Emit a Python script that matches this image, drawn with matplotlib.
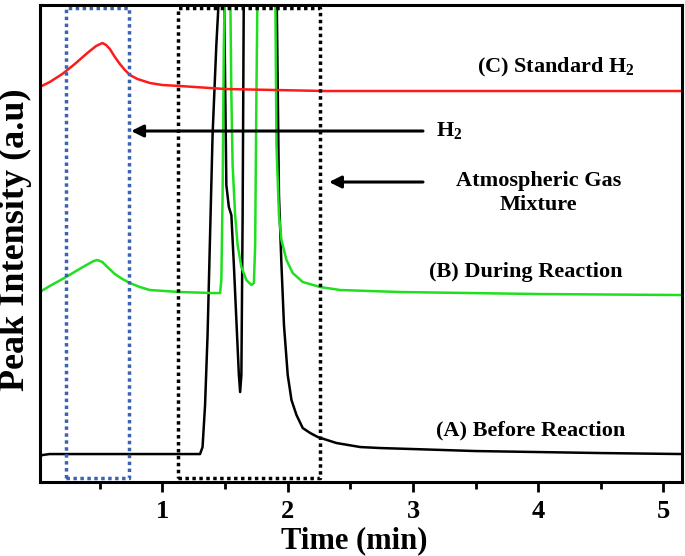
import matplotlib
matplotlib.use('Agg')
import matplotlib.pyplot as plt

plt.rcParams['font.family'] = 'Liberation Serif'
plt.rcParams['font.weight'] = 'bold'
plt.rcParams['mathtext.fontset'] = 'custom'
plt.rcParams['mathtext.rm'] = 'Liberation Serif:bold'
plt.rcParams['mathtext.default'] = 'rm'

# values (y in arbitrary intensity units, >490 = off scale)
t_a = [0.00, 0.04, 0.10, 0.50, 1.00, 1.30, 1.32, 1.34, 1.36, 1.38, 1.40, 1.43,
       1.46, 1.49, 1.51, 1.53, 1.55, 1.57, 1.59, 1.61, 1.62, 1.63, 1.64, 1.65,
       1.90, 1.91, 1.93, 1.95, 1.97, 2.00, 2.03, 2.07, 2.12, 2.18, 2.24, 2.39,
       2.58, 2.74, 3.00, 3.50, 4.00, 4.50, 5.15]
y_a = [36, 40, 41, 41, 41, 41, 48, 90, 160, 260, 360, 450,
       520, 520, 310, 288, 280, 230, 175, 120, 103, 120, 280, 520,
       520, 520, 300, 230, 170, 120, 95, 80, 67, 62, 58, 52,
       48, 47, 46, 44, 43, 42, 41]

t_b = [0.02, 0.10, 0.23, 0.35, 0.45, 0.48, 0.52, 0.56, 0.62, 0.68, 0.74, 0.82,
       0.90, 1.14, 1.40, 1.46, 1.47, 1.48, 1.49, 1.50, 1.54, 1.55, 1.56, 1.58,
       1.60, 1.63, 1.67, 1.71, 1.73, 1.74, 1.75, 1.76, 1.90, 1.91, 1.93, 1.95,
       1.99, 2.04, 2.12, 2.26, 2.42, 2.90, 4.00, 5.15]
y_b = [203, 209, 218, 227, 234, 235, 233, 228, 221, 216, 212, 208,
       205, 203, 202, 202, 215, 300, 450, 520, 520, 400, 330, 280,
       250, 228, 215, 210, 212, 250, 400, 520, 520, 350, 280, 255,
       235, 222, 213, 208, 205, 203, 201, 200]

t_c = [0.02, 0.10, 0.20, 0.30, 0.40, 0.47, 0.52, 0.55, 0.58, 0.62, 0.66, 0.70,
       0.74, 0.80, 0.90, 1.00, 1.14, 1.50, 2.30, 3.00, 4.00, 5.15]
y_c = [408, 413, 421, 431, 442, 449, 452, 450, 446, 438, 431, 425,
       420, 416, 412, 410, 409, 406, 404, 404, 404, 404]

h2_box = (0.23, 0.736)
gas_box = (1.12, 2.256)
box_y = (17, 487)

labels = ['(C) Standard H$_2$', '(B) During Reaction', '(A) Before Reaction']
label_x = [4.14, 3.90, 3.94]
label_y = [428, 223, 65]

fig = plt.figure(figsize=(6.85, 5.56), dpi=100)
ax = fig.add_axes([0.058, 0.133, 0.938, 0.858])

ax.plot(t_a, y_a, color='black', lw=1.8)
ax.plot(t_b, y_b, color='#1ee01e', lw=1.8)
ax.plot(t_c, y_c, color='#ff1a1a', lw=1.8)

# dotted boxes
x0, x1 = h2_box
ax.plot([x0, x1, x1, x0, x0], [box_y[0], box_y[0], box_y[1], box_y[1], box_y[0]],
        color='#3a63b0', ls=(0, (1, 1)), lw=2.5, clip_on=False)
x0, x1 = gas_box
ax.plot([x0, x1, x1, x0, x0], [box_y[0], box_y[0], box_y[1], box_y[1], box_y[0]],
        color='black', ls=(0, (1, 1)), lw=2.5, clip_on=False)

# arrows
ax.annotate('', xy=(0.75, 364), xytext=(3.08, 364),
            arrowprops=dict(arrowstyle='-|>', color='black', lw=2.2,
                            mutation_scale=18, shrinkA=0, shrinkB=0))
ax.annotate('', xy=(2.33, 313), xytext=(3.08, 313),
            arrowprops=dict(arrowstyle='-|>', color='black', lw=2.2,
                            mutation_scale=18, shrinkA=0, shrinkB=0))
ax.text(3.18, 365, 'H$_2$', fontsize=16, fontweight='bold', ha='left', va='center')
ax.text(4.0, 302, 'Atmospheric Gas\nMixture', fontsize=16, fontweight='bold',
        ha='center', va='center', linespacing=1.3)

for lab, lx, ly in zip(labels, label_x, label_y):
    ax.text(lx, ly, lab, fontsize=16, fontweight='bold', ha='center', va='center')

ax.set_xlim(0.02, 5.15)
ax.set_ylim(13, 490)
ax.set_xticks([1, 2, 3, 4, 5])
ax.set_xticks([0.5, 1.5, 2.5, 3.5, 4.5], minor=True)
ax.set_yticks([])
ax.tick_params(axis='x', which='major', direction='out', length=7, width=2,
               labelsize=19, pad=6)
ax.tick_params(axis='x', which='minor', direction='out', length=5, width=2)
for lab in ax.get_xticklabels():
    lab.set_fontweight('bold')
for s in ax.spines.values():
    s.set_linewidth(2.2)

ax.set_xlabel('Time (min)', fontsize=22, fontweight='bold')
ax.xaxis.set_label_coords(0.489, -0.092)
ax.set_ylabel('Peak Intensity (a.u)', fontsize=26, fontweight='bold')
ax.yaxis.set_label_coords(-0.012, 0.509)

fig.savefig('out.png', dpi=100)
